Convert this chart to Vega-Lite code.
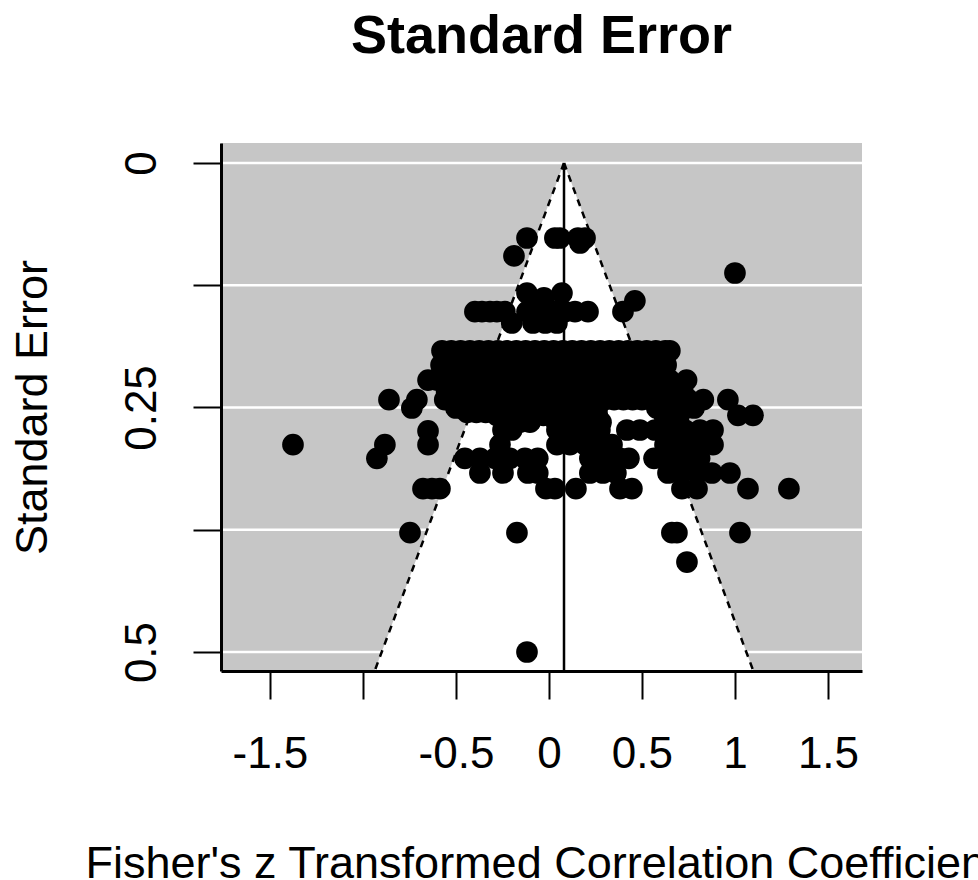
{"$schema":"https://vega.github.io/schema/vega-lite/v6.json","width":641,"height":528,"autosize":{"type":"none"},"padding":{"left":221,"top":143,"right":116,"bottom":209},"background":"white","title":{"text":"Standard Error","font":"Liberation Sans","fontSize":54,"fontWeight":"bold","color":"black","offset":79,"anchor":"middle"},"config":{"view":{"stroke":null}},"datasets":{"funnel":[{"se":0,"lo":0.081,"hi":0.081},{"se":0.5194,"lo":-0.937,"hi":1.099}],"grid":[{"se":0},{"se":0.125},{"se":0.25},{"se":0.375},{"se":0.5}],"studies":[
{"z":-0.118,"se":0.0767},{"z":0.032,"se":0.0767},{"z":0.059,"se":0.0767},{"z":0.156,"se":0.0767},{"z":0.194,"se":0.0767},{"z":0.167,"se":0.0818},{"z":-0.188,"se":0.095},{"z":1.0,"se":0.1125},{"z":-0.118,"se":0.133},{"z":0.07,"se":0.133},{"z":-0.027,"se":0.138},{"z":0.462,"se":0.141},{"z":0.398,"se":0.152},
{"z":-0.398,"se":0.152},{"z":-0.36,"se":0.152},{"z":-0.317,"se":0.152},{"z":-0.28,"se":0.152},{"z":-0.237,"se":0.152},{"z":-0.118,"se":0.152},{"z":-0.075,"se":0.152},{"z":-0.02,"se":0.152},{"z":0.032,"se":0.152},{"z":0.086,"se":0.152},{"z":0.14,"se":0.152},{"z":0.21,"se":0.152},
{"z":-0.2,"se":0.1636},{"z":-0.086,"se":0.1636},{"z":-0.02,"se":0.1636},{"z":0.043,"se":0.1636},
{"z":-0.575,"se":0.192},{"z":-0.525,"se":0.192},{"z":-0.475,"se":0.192},{"z":-0.425,"se":0.192},{"z":-0.375,"se":0.192},{"z":-0.325,"se":0.192},{"z":-0.275,"se":0.192},{"z":-0.225,"se":0.192},{"z":-0.175,"se":0.192},{"z":-0.125,"se":0.192},{"z":-0.075,"se":0.192},{"z":-0.025,"se":0.192},{"z":0.025,"se":0.192},{"z":0.075,"se":0.192},{"z":0.125,"se":0.192},{"z":0.175,"se":0.192},{"z":0.225,"se":0.192},{"z":0.275,"se":0.192},{"z":0.325,"se":0.192},{"z":0.375,"se":0.192},{"z":0.425,"se":0.192},{"z":0.475,"se":0.192},{"z":0.525,"se":0.192},{"z":0.575,"se":0.192},{"z":0.625,"se":0.192},{"z":0.65,"se":0.192},
{"z":-0.58,"se":0.2065},{"z":-0.53,"se":0.2065},{"z":-0.46,"se":0.2065},{"z":-0.37,"se":0.2065},{"z":-0.3,"se":0.2065},{"z":-0.25,"se":0.2065},{"z":-0.2,"se":0.2065},{"z":-0.15,"se":0.2065},{"z":-0.1,"se":0.2065},{"z":-0.05,"se":0.2065},{"z":0,"se":0.2065},{"z":0.05,"se":0.2065},{"z":0.1,"se":0.2065},{"z":0.15,"se":0.2065},{"z":0.2,"se":0.2065},{"z":0.25,"se":0.2065},{"z":0.3,"se":0.2065},{"z":0.37,"se":0.2065},{"z":0.47,"se":0.2065},{"z":0.54,"se":0.2065},{"z":0.59,"se":0.2065},{"z":0.63,"se":0.2065},
{"z":-0.65,"se":0.222},{"z":-0.6,"se":0.222},{"z":-0.55,"se":0.222},{"z":-0.5,"se":0.222},{"z":-0.45,"se":0.222},{"z":-0.4,"se":0.222},{"z":-0.35,"se":0.222},{"z":-0.3,"se":0.222},{"z":-0.25,"se":0.222},{"z":-0.2,"se":0.222},{"z":-0.15,"se":0.222},{"z":-0.1,"se":0.222},{"z":-0.05,"se":0.222},{"z":0,"se":0.222},{"z":0.05,"se":0.222},{"z":0.1,"se":0.222},{"z":0.15,"se":0.222},{"z":0.2,"se":0.222},{"z":0.25,"se":0.222},{"z":0.3,"se":0.222},{"z":0.35,"se":0.222},{"z":0.4,"se":0.222},{"z":0.45,"se":0.222},{"z":0.5,"se":0.222},{"z":0.55,"se":0.222},{"z":0.6,"se":0.222},{"z":0.65,"se":0.222},{"z":0.74,"se":0.222},
{"z":-0.55,"se":0.234},{"z":-0.5,"se":0.234},{"z":-0.45,"se":0.234},{"z":-0.4,"se":0.234},{"z":-0.35,"se":0.234},{"z":-0.3,"se":0.234},{"z":-0.25,"se":0.234},{"z":-0.2,"se":0.234},{"z":-0.15,"se":0.234},{"z":-0.1,"se":0.234},{"z":-0.05,"se":0.234},{"z":0,"se":0.234},{"z":0.05,"se":0.234},{"z":0.1,"se":0.234},{"z":0.15,"se":0.234},{"z":0.2,"se":0.234},{"z":0.25,"se":0.234},{"z":0.3,"se":0.234},{"z":0.35,"se":0.234},{"z":0.4,"se":0.234},{"z":0.45,"se":0.234},{"z":0.5,"se":0.234},{"z":0.55,"se":0.234},{"z":0.6,"se":0.234},{"z":0.65,"se":0.234},{"z":0.72,"se":0.234},
{"z":-0.86,"se":0.242},{"z":-0.71,"se":0.242},{"z":-0.56,"se":0.242},{"z":-0.5,"se":0.242},{"z":-0.45,"se":0.242},{"z":-0.4,"se":0.242},{"z":-0.35,"se":0.242},{"z":-0.3,"se":0.242},{"z":-0.25,"se":0.242},{"z":-0.2,"se":0.242},{"z":-0.15,"se":0.242},{"z":-0.1,"se":0.242},{"z":-0.05,"se":0.242},{"z":0,"se":0.242},{"z":0.05,"se":0.242},{"z":0.1,"se":0.242},{"z":0.15,"se":0.242},{"z":0.2,"se":0.242},{"z":0.25,"se":0.242},{"z":0.3,"se":0.242},{"z":0.35,"se":0.242},{"z":0.4,"se":0.242},{"z":0.45,"se":0.242},{"z":0.5,"se":0.242},{"z":0.55,"se":0.242},{"z":0.6,"se":0.242},{"z":0.65,"se":0.242},{"z":0.7,"se":0.242},{"z":0.75,"se":0.242},{"z":0.83,"se":0.242},{"z":0.962,"se":0.242},
{"z":-0.737,"se":0.2505},{"z":-0.5,"se":0.2505},{"z":-0.45,"se":0.2505},{"z":-0.4,"se":0.2505},{"z":-0.35,"se":0.2505},{"z":-0.3,"se":0.2505},{"z":-0.25,"se":0.2505},{"z":-0.2,"se":0.2505},{"z":-0.15,"se":0.2505},{"z":-0.1,"se":0.2505},{"z":-0.05,"se":0.2505},{"z":0,"se":0.2505},{"z":0.05,"se":0.2505},{"z":0.1,"se":0.2505},{"z":0.15,"se":0.2505},{"z":0.2,"se":0.2505},{"z":0.26,"se":0.2505},{"z":0.58,"se":0.2505},{"z":0.63,"se":0.2505},{"z":0.68,"se":0.2505},{"z":0.73,"se":0.2505},{"z":0.78,"se":0.2505},
{"z":-0.44,"se":0.255},{"z":-0.39,"se":0.255},{"z":-0.34,"se":0.255},{"z":-1.376,"se":0.288},{"z":1.016,"se":0.258},{"z":1.097,"se":0.258},
{"z":-0.28,"se":0.258},{"z":-0.23,"se":0.258},{"z":-0.18,"se":0.258},{"z":-0.13,"se":0.258},{"z":-0.08,"se":0.258},{"z":-0.03,"se":0.258},{"z":0.02,"se":0.258},{"z":0.07,"se":0.258},{"z":0.12,"se":0.258},{"z":0.17,"se":0.258},{"z":0.22,"se":0.258},{"z":0.26,"se":0.258},{"z":0.62,"se":0.258},{"z":0.7,"se":0.258},
{"z":-0.156,"se":0.265},{"z":-0.102,"se":0.265},{"z":0.04,"se":0.265},{"z":0.1,"se":0.265},{"z":0.16,"se":0.265},{"z":0.22,"se":0.265},{"z":0.28,"se":0.265},
{"z":-0.65,"se":0.274},{"z":-0.247,"se":0.273},{"z":-0.2,"se":0.273},{"z":0.043,"se":0.273},{"z":0.113,"se":0.273},{"z":0.194,"se":0.273},{"z":0.274,"se":0.273},{"z":0.419,"se":0.273},{"z":0.489,"se":0.273},{"z":0.57,"se":0.273},{"z":0.65,"se":0.273},{"z":0.731,"se":0.273},{"z":0.812,"se":0.273},{"z":0.882,"se":0.273},
{"z":-0.882,"se":0.288},{"z":-0.65,"se":0.288},{"z":-0.263,"se":0.288},{"z":0.043,"se":0.288},{"z":0.113,"se":0.288},{"z":0.194,"se":0.288},{"z":0.274,"se":0.288},{"z":0.339,"se":0.288},{"z":0.624,"se":0.288},{"z":0.705,"se":0.288},{"z":0.785,"se":0.288},{"z":0.882,"se":0.288},
{"z":-0.925,"se":0.302},{"z":-0.452,"se":0.302},{"z":-0.371,"se":0.302},{"z":-0.29,"se":0.302},{"z":-0.21,"se":0.302},{"z":-0.129,"se":0.302},{"z":-0.06,"se":0.302},{"z":0.22,"se":0.302},{"z":0.3,"se":0.302},{"z":0.382,"se":0.302},{"z":0.43,"se":0.302},{"z":0.565,"se":0.302},{"z":0.65,"se":0.302},{"z":0.73,"se":0.302},{"z":0.81,"se":0.302},
{"z":-0.371,"se":0.317},{"z":-0.247,"se":0.317},{"z":-0.113,"se":0.317},{"z":-0.06,"se":0.317},{"z":0.22,"se":0.317},{"z":0.29,"se":0.317},{"z":0.36,"se":0.317},{"z":0.64,"se":0.317},{"z":0.715,"se":0.317},{"z":0.796,"se":0.317},{"z":0.876,"se":0.317},{"z":0.973,"se":0.317},
{"z":-0.677,"se":0.333},{"z":-0.629,"se":0.333},{"z":-0.586,"se":0.333},{"z":-0.016,"se":0.333},{"z":0.032,"se":0.333},{"z":0.145,"se":0.333},{"z":0.382,"se":0.333},{"z":0.446,"se":0.333},{"z":0.715,"se":0.333},{"z":0.796,"se":0.333},{"z":1.07,"se":0.333},{"z":1.29,"se":0.333},
{"z":-0.747,"se":0.378},{"z":-0.172,"se":0.378},{"z":0.661,"se":0.378},{"z":0.688,"se":0.378},{"z":1.027,"se":0.378},{"z":0.742,"se":0.408},{"z":-0.118,"se":0.5}
]},
"encoding":{"x":{"type":"quantitative","title":"Fisher's z Transformed Correlation Coefficient","scale":{"domain":[-1.763,1.683],"nice":false,"zero":false},"axis":{"values":[-1.5,-1,-0.5,0,0.5,1,1.5],"labelExpr":"datum.value==-1?'':''+datum.value","grid":false,"domainColor":"black","domainWidth":3,"tickColor":"black","tickWidth":2,"tickSize":28,"labelColor":"black","labelFont":"Liberation Sans","labelFontSize":44,"labelPadding":33,"labelFlush":false,"labelOverlap":false,"labelBound":false,"titleFont":"Liberation Sans","titleFontSize":45,"titleFontWeight":"normal","titleColor":"black","titlePadding":65,"titleLimit":2000,"zindex":1}},"y":{"type":"quantitative","title":"Standard Error","scale":{"domain":[-0.0204,0.5194],"nice":false,"zero":false,"reverse":true},"axis":{"values":[0,0.125,0.25,0.375,0.5],"labelExpr":"datum.value==0.125||datum.value==0.375?'':''+datum.value","grid":false,"domainColor":"black","domainWidth":3,"tickColor":"black","tickWidth":2,"tickSize":28,"labelColor":"black","labelFont":"Liberation Sans","labelFontSize":44,"labelAngle":-90,"labelAlign":"center","labelBaseline":"bottom","labelPadding":29,"labelOverlap":false,"labelBound":false,"titleFont":"Liberation Sans","titleFontSize":45,"titleFontWeight":"normal","titleColor":"black","titlePadding":65,"titleLimit":2000,"zindex":1}}},
"layer":[
{"data":{"values":[{"a":-1.763,"b":1.683,"t":-0.0204,"u":0.5194}]},"mark":{"type":"rect","color":"#c6c6c6"},"encoding":{"x":{"field":"a"},"x2":{"field":"b"},"y":{"field":"t"},"y2":{"field":"u"}}},
{"data":{"name":"grid"},"mark":{"type":"rule","color":"white","strokeWidth":2.5},"encoding":{"x":{"value":0},"x2":{"value":641},"y":{"field":"se"}}},
{"data":{"name":"funnel"},"mark":{"type":"area","orient":"horizontal","color":"white"},"encoding":{"y":{"field":"se"},"x":{"field":"lo"},"x2":{"field":"hi"}}},
{"data":{"name":"funnel"},"mark":{"type":"line","color":"black","strokeWidth":2.5,"strokeDash":[7,6]},"encoding":{"y":{"field":"se"},"x":{"field":"lo"},"order":{"field":"se"}}},
{"data":{"name":"funnel"},"mark":{"type":"line","color":"black","strokeWidth":2.5,"strokeDash":[7,6]},"encoding":{"y":{"field":"se"},"x":{"field":"hi"},"order":{"field":"se"}}},
{"data":{"values":[{"c":0.081,"t":0,"u":0.5194}]},"mark":{"type":"rule","color":"black","strokeWidth":2.5},"encoding":{"x":{"field":"c"},"y":{"field":"t"},"y2":{"field":"u"}}},
{"data":{"name":"studies"},"mark":{"type":"point","filled":true,"color":"black","opacity":1,"size":470},"encoding":{"x":{"field":"z"},"y":{"field":"se"}}}
]}
